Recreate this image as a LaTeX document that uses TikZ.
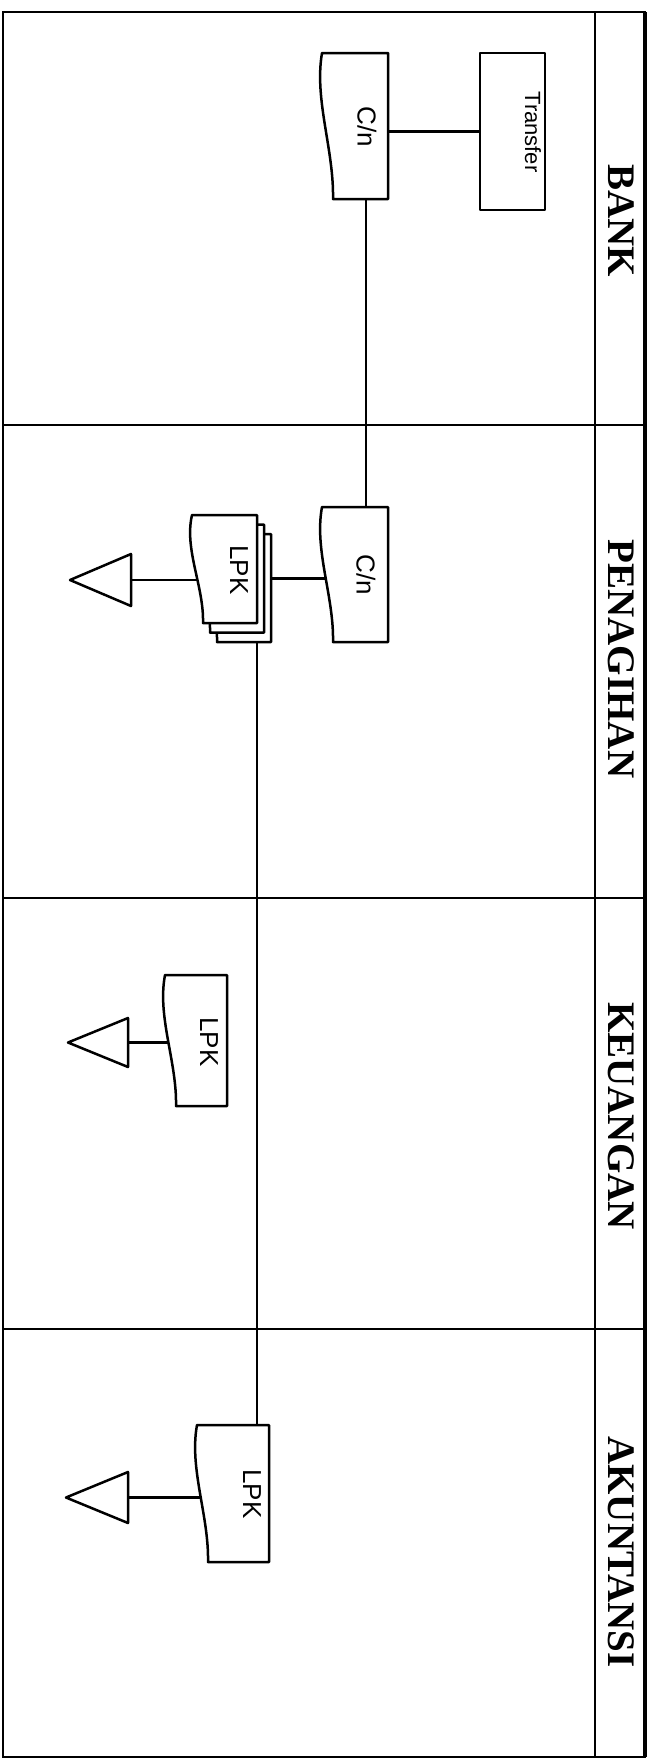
\documentclass[tikz,border=0pt]{standalone}
\usepackage{fontspec}
\setmainfont{Liberation Serif}
\newfontfamily\sansf{Liberation Sans}
\usetikzlibrary{calc}
\tikzset{
 box/.style={rectangle, draw=none, inner sep=0pt, outer sep=0pt},
 shp/.style={line width=2.5pt, line join=round},
 conn/.style={line width=2.3pt},
 lbl/.style={inner sep=0pt, rotate=-90, font=\sansf\fontsize{26}{28}\selectfont},
 lanetitle/.style={inner sep=0pt, rotate=-90, font=\bfseries\fontsize{39}{40}\selectfont},
}
\newcommand\docoutline[2][]{%
 \draw[shp,#1] (#2.north west) -- (#2.north east) -- (#2.south east) -- ($(#2.south west)+(11,0)$)
 .. controls ($(#2.south west)!0.34!(#2.north west)+(12,0)$) and ($(#2.south west)!0.68!(#2.north west)+(-8,0)$) .. (#2.north west) -- cycle;}
\newcommand\archtri[1]{%
 \draw[shp] (#1.west) -- (#1.north east) -- (#1.south east) -- cycle;}
\begin{document}
\begin{tikzpicture}[x=1pt,y=-1pt]
\useasboundingbox (0,0) rectangle (648,1762);
% frame and lanes
\draw[line width=2.5pt] (3,12) rectangle (645,1757);
\draw[line width=4pt] (645,12) -- (645,1757);
\draw[line width=2.2pt] (595,12) -- (595,1757);
\draw[line width=2.2pt] (3,425) -- (645,425);
\draw[line width=2.2pt] (3,898) -- (645,898);
\draw[line width=2.2pt] (3,1329) -- (645,1329);
% lane titles
\node[lanetitle] (tBank) at (621,221) {BANK};
\node[lanetitle] (tPen) at (621,659) {PENAGIHAN};
\node[lanetitle] (tKeu) at (621,1116) {KEUANGAN};
\node[lanetitle] (tAk) at (621,1552) {AKUNTANSI};
% BANK
\node[box, minimum width=65pt, minimum height=157pt] (transfer) at (512.5,131.5) {};
\draw[shp] (transfer.north west) rectangle (transfer.south east);
\node[lbl, font=\sansf\fontsize{22}{24}\selectfont] (transferT) at (533,132) {Transfer};
\node[box, minimum width=66pt, minimum height=146pt] (cnA) at (355,126) {};
\docoutline{cnA}
\node[lbl] (cnAT) at (367,127) {C/n};
% PENAGIHAN
\node[box, minimum width=66pt, minimum height=135pt] (cnB) at (355,574.5) {};
\docoutline{cnB}
\node[lbl] (cnBT) at (366,575) {C/n};
\node[box, minimum width=65pt, minimum height=108pt] (lpkA3) at (238.5,588) {};
\node[box, minimum width=65pt, minimum height=108pt] (lpkA2) at (231.5,578.5) {};
\node[box, minimum width=65pt, minimum height=108pt] (lpkA1) at (224.5,569) {};
\docoutline[fill=white]{lpkA3}
\docoutline[fill=white]{lpkA2}
\docoutline[fill=white]{lpkA1}
\node[lbl] (lpkAT) at (239,570) {LPK};
\node[box, minimum width=61pt, minimum height=52pt] (triA) at (100.5,580) {};
\archtri{triA}
% KEUANGAN
\node[box, minimum width=62pt, minimum height=131pt] (lpkB) at (196,1040.5) {};
\docoutline{lpkB}
\node[lbl] (lpkBT) at (209,1042) {LPK};
\node[box, minimum width=60pt, minimum height=49pt] (triB) at (98,1042.5) {};
\archtri{triB}
% AKUNTANSI
\node[box, minimum width=72pt, minimum height=137pt] (lpkC) at (233,1493.5) {};
\docoutline{lpkC}
\node[lbl] (lpkCT) at (252,1494) {LPK};
\node[box, minimum width=62pt, minimum height=51pt] (triC) at (97,1497.5) {};
\archtri{triC}
% connectors
\draw[conn] (transfer.west) -- (transfer.west -| cnA.east);
\draw[conn] ($(cnA.south)+(11,0)$) coordinate (v1) -- (v1 |- cnB.north);
\draw[conn] (lpkA3.east |- lpkA2.center) -- ($(cnB.west |- lpkA2.center)+(4,0)$);
\draw[conn] (triA.east) -- ($(triA.east -| lpkA1.west)+(6,0)$);
\draw[conn] (lpkA1.east |- lpkA3.south) -- (lpkA1.east |- lpkC.north);
\draw[conn] (triB.east) -- ($(triB.east -| lpkB.west)+(4,0)$);
\draw[conn] (triC.east) -- ($(triC.east -| lpkC.west)+(4,0)$);
\end{tikzpicture}
\end{document}
